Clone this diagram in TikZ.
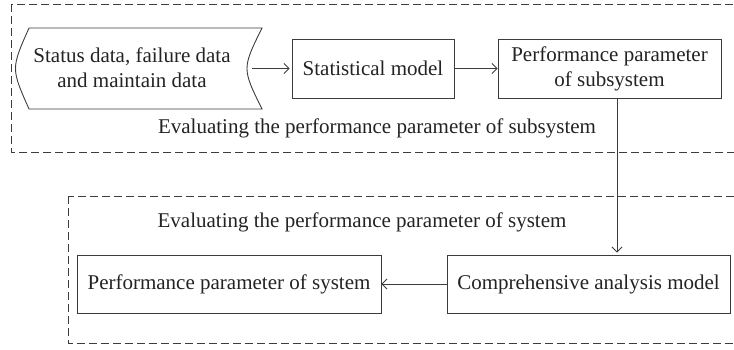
\documentclass[tikz,border=0pt]{standalone}
\usepackage{fontspec}
\setmainfont{Liberation Serif}
\newfontfamily\diagfont{Liberation Serif}
\usetikzlibrary{positioning,arrows.meta}

\definecolor{linegray}{RGB}{60,60,60}
\definecolor{textgray}{RGB}{35,35,35}
\tikzset{
  block/.style={draw=linegray, line width=0.9pt, rectangle, align=center, inner sep=0pt},
  group/.style={draw=linegray, line width=0.8pt, dash pattern=on 8pt off 4pt},
  flow/.style={draw=linegray, line width=0.8pt, -{Straight Barb[length=5pt,width=10pt]}},
  caption/.style={inner sep=0pt}
}

\begin{document}
\begin{tikzpicture}[x=1pt, y=-1pt, font=\diagfont\fontsize{21}{25}\selectfont, text=textgray]
    \useasboundingbox (0,0) rectangle (734,349);
    % groups
    \draw[group] (11,4) rectangle (740,152);
    \draw[group] (68,196) rectangle (740,343);
    % stored data
    \draw[linegray, line width=0.9pt] (29,28) -- (262,28) .. controls (242,68.5) .. (262,109)
      -- (29,109) .. controls (11,68.5) .. (29,28);
    \node[caption, align=center] (data) at (132,68) {Status data, failure data\\ and maintain data};
    \coordinate (data_out) at (252,68.5);
    % subsystem level
    \node[block, minimum width=162pt, minimum height=59pt] (stat) at (373,68.5) {Statistical model};
    \node[block, minimum width=223pt, minimum height=59pt] (perf_sub) at (609.5,68.5) {Performance parameter\\ of subsystem};
    \node[caption] (cap_sub) at (377,128) {Evaluating the performance parameter of subsystem};
    % system level
    \node[caption] (cap_sys) at (362,222) {Evaluating the performance parameter of system};
    \node[block, minimum width=283pt, minimum height=58pt] (comp) at (588.5,284) {Comprehensive analysis model};
    \node[block, minimum width=304pt, minimum height=58pt] (perf_sys) at (229,284) {Performance parameter of system};
    \coordinate (drop) at (617,0);

    \draw[flow, shorten >=2pt] (data_out) -- (stat);
    \draw[flow] (stat) -- (perf_sub);
    \draw[flow, shorten >=2pt] (perf_sub.south -| drop) -- (comp.north -| drop);
    \draw[flow] (comp) -- (perf_sys);
\end{tikzpicture}
\end{document}
